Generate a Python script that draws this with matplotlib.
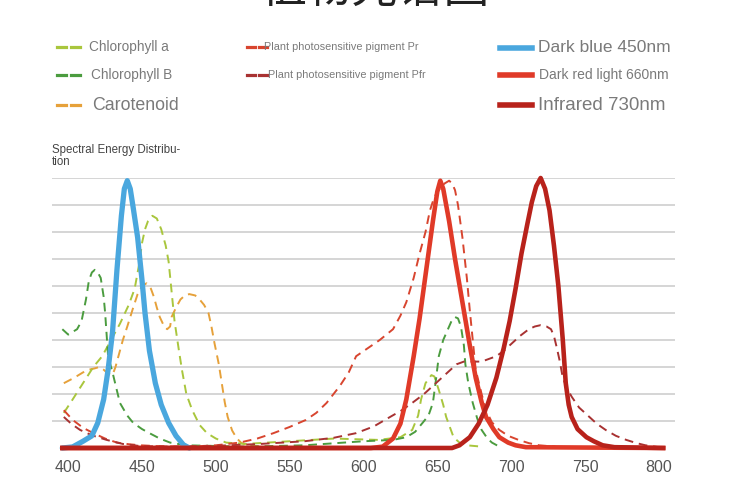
import matplotlib
matplotlib.use("Agg")
import matplotlib.pyplot as plt
from matplotlib.lines import Line2D

plt.rcParams['font.family'] = ['Liberation Sans', 'DejaVu Sans']

# wavelengths (nm) and relative energy (0-10 grid units)
wl_blue = [396, 403, 410, 416, 420, 424, 427, 430, 433, 436, 438, 440, 442, 444, 447, 450, 452,
           455, 459, 463, 468, 473, 478, 482]
val_blue = [0, 0.04, 0.25, 0.45, 0.93, 1.8, 2.9, 4.3, 6.6, 8.6, 9.6, 9.9, 9.6, 8.9, 7.8, 6.2, 5.0,
            3.6, 2.4, 1.6, 0.93, 0.45, 0.12, 0]

wl_red = [396, 605, 613, 620, 625, 629, 634, 638, 641, 644, 647, 650, 652, 654, 658, 662, 667,
          672, 676, 680, 683, 688, 692, 698, 703, 710, 803]
val_red = [0, 0, 0.05, 0.35, 0.9, 1.8, 3.4, 4.8, 6.0, 7.2, 8.4, 9.5, 9.9, 9.6, 8.4, 7.0, 5.4,
           3.8, 2.6, 1.7, 1.15, 0.7, 0.4, 0.2, 0.1, 0.03, 0]

wl_ir = [396, 660, 665, 672, 678, 684, 690, 695, 699, 703, 707, 711, 714, 717, 720, 723, 726,
         729, 732, 735, 737, 739, 741, 745, 751, 756, 762, 770, 803]
val_ir = [0, 0, 0.1, 0.4, 0.9, 1.6, 2.6, 3.7, 4.7, 5.9, 7.2, 8.3, 9.1, 9.7, 10.0, 9.6, 8.8,
          7.5, 6.0, 4.0, 2.4, 1.6, 1.15, 0.7, 0.4, 0.25, 0.1, 0.03, 0]

wl_chla = [397, 403, 410, 417, 423, 429, 435, 441, 445, 448, 450, 452, 454, 457, 460, 463, 466,
           468, 470, 472, 475, 477, 480, 484, 489, 494, 500, 507, 520, 550, 580, 610, 625, 633,
           637, 639, 642, 646, 648, 651, 654, 656, 659, 661, 665, 670, 680]
val_chla = [1.3, 1.8, 2.4, 3.0, 3.4, 4.0, 4.6, 5.3, 5.9, 6.8, 7.6, 8.1, 8.4, 8.6, 8.5, 8.1, 7.5,
            6.9, 5.8, 4.7, 3.6, 2.9, 2.0, 1.4, 0.85, 0.55, 0.35, 0.2, 0.15, 0.25, 0.35, 0.3, 0.4,
            0.67, 1.2, 1.8, 2.4, 2.7, 2.65, 2.15, 1.6, 1.15, 0.7, 0.4, 0.2, 0.1, 0.05]

wl_chlb = [396, 400, 403, 406, 409, 412, 414, 416, 418, 420, 422, 424, 425, 427, 430, 435, 440,
           444, 450, 455, 462, 469, 480, 520, 560, 600, 620, 629, 635, 640, 644, 647, 649, 651,
           654, 658, 660, 662, 664, 666, 668, 669, 671, 674, 677, 680, 684, 687, 692]
val_chlb = [4.4, 4.2, 4.3, 4.4, 4.7, 5.5, 6.2, 6.5, 6.6, 6.5, 6.3, 5.6, 5.0, 3.4, 2.8, 1.67, 1.2,
            0.93, 0.7, 0.55, 0.35, 0.2, 0.1, 0.05, 0.1, 0.25, 0.3, 0.4, 0.6, 0.93, 1.2, 1.67, 2.5,
            3.4, 4.0, 4.5, 4.75, 4.85, 4.8, 4.5, 3.8, 3.1, 2.4, 1.67, 1.1, 0.67, 0.35, 0.2, 0.05]

wl_car = [397, 404, 410, 414, 418, 421, 424, 427, 430, 432, 434, 437, 440, 444, 447, 450, 453,
          456, 458, 460, 462, 465, 467, 469, 470, 473, 476, 479, 482, 486, 489, 492, 495, 497,
          499, 502, 504, 506, 508, 511, 514, 517, 521, 530, 560]
val_car = [2.4, 2.6, 2.8, 2.9, 2.95, 3.0, 2.9, 2.75, 2.7, 3.0, 3.4, 4.0, 4.5, 5.2, 5.7, 6.0, 6.1,
           5.9, 5.6, 5.2, 4.85, 4.5, 4.4, 4.5, 4.85, 5.2, 5.5, 5.65, 5.7, 5.65, 5.5, 5.3, 5.0, 4.5,
           3.9, 3.1, 2.4, 1.7, 1.15, 0.65, 0.37, 0.2, 0.1, 0.05, 0.02]

wl_pr = [397, 403, 410, 417, 425, 433, 441, 449, 460, 482, 500, 516, 528, 539, 550, 561, 568,
         575, 584, 590, 595, 603, 611, 620, 625, 629, 634, 638, 642, 645, 648, 651, 655, 658, 660,
         662, 664, 667, 670, 672, 674, 676, 680, 683, 687, 692, 698, 705, 712, 719, 730]
val_pr = [1.4, 1.04, 0.75, 0.55, 0.35, 0.2, 0.14, 0.1, 0.07, 0.05, 0.1, 0.2, 0.35, 0.55, 0.78,
          1.04, 1.3, 1.67, 2.3, 2.8, 3.4, 3.7, 4.0, 4.4, 4.9, 5.4, 6.3, 7.2, 8.0, 8.8, 9.3, 9.55,
          9.8, 9.9, 9.8, 9.55, 9.0, 7.8, 6.3, 5.1, 4.0, 2.9, 2.0, 1.4, 0.95, 0.67, 0.45, 0.3, 0.18,
          0.1, 0.05]

wl_pfr = [397, 402, 408, 416, 426, 437, 449, 470, 500, 530, 560, 580, 595, 607, 618, 626, 633,
          641, 649, 656, 663, 668, 674, 680, 685, 690, 695, 701, 706, 712, 716, 720, 724, 727,
          729, 731, 733, 735, 738, 741, 746, 753, 758, 764, 771, 778, 785, 791, 800]
val_pfr = [1.15, 0.9, 0.67, 0.47, 0.3, 0.15, 0.07, 0.05, 0.08, 0.15, 0.25, 0.38, 0.55, 0.8, 1.15,
           1.4, 1.67, 2.0, 2.4, 2.75, 3.1, 3.2, 3.2, 3.2, 3.3, 3.4, 3.6, 3.9, 4.15, 4.4, 4.5, 4.55,
           4.5, 4.4, 4.15, 3.7, 3.2, 2.6, 2.2, 1.9, 1.5, 1.15, 0.9, 0.67, 0.45, 0.3, 0.18, 0.1,
           0.03]

xticks = [400, 450, 500, 550, 600, 650, 700, 750, 800]

c_chla = '#a9c63d'
c_chlb = '#4b9c3f'
c_car = '#e6a13a'
c_pr = '#d8452f'
c_pfr = '#a83232'
c_blue = '#4aa7de'
c_red = '#e03a28'
c_ir = '#b8221b'

W, H = 750, 499
fig = plt.figure(figsize=(7.5, 4.99), dpi=100)
ax = fig.add_axes([52 / W, 1 - 448 / H, 623 / W, 270 / H])
ax.set_xlim(389, 811)
ax.set_ylim(0, 10)

for g in range(1, 11):
    ax.axhline(g, color='#d2d2d2', lw=1.3, zorder=0)

dash = (0, (4.5, 3))
ax.plot(wl_car, val_car, color=c_car, lw=1.4, ls=dash, zorder=2)
ax.plot(wl_chla, val_chla, color=c_chla, lw=1.4, ls=dash, zorder=2)
ax.plot(wl_chlb, val_chlb, color=c_chlb, lw=1.4, ls=dash, zorder=2)
ax.plot(wl_pr, val_pr, color=c_pr, lw=1.4, ls=dash, zorder=2)
ax.plot(wl_pfr, val_pfr, color=c_pfr, lw=1.4, ls=dash, zorder=2)

ax.plot(wl_blue, val_blue, color=c_blue, lw=3.8, zorder=3, clip_on=False,
        solid_capstyle='round', solid_joinstyle='round')
ax.plot(wl_red, val_red, color=c_red, lw=3.3, zorder=3, clip_on=False, solid_joinstyle='round')
ax.plot(wl_ir, val_ir, color=c_ir, lw=3.3, zorder=4, clip_on=False, solid_joinstyle='round')

for s in ax.spines.values():
    s.set_visible(False)
ax.set_yticks([])
ax.set_xticks(xticks)
ax.set_xticklabels([str(t) for t in xticks], fontsize=11.5, color='#555555')
ax.tick_params(axis='x', length=0, pad=9)

fig.text(52 / W, 1 - 144 / H, 'Spectral Energy Distribu-\ntion', fontsize=8.3, color='#444444',
         va='top', ha='left', linespacing=1.0)

fig.text(376 / W, 1 - 13 / H, '植物光谱图', fontsize=33, color='#222222', ha='center',
         va='bottom', family=['Noto Sans CJK SC', 'DejaVu Sans'])


def legend_entry(x0, x1, y, color, label, size, dashed, tx):
    yy = 1 - y / H
    if dashed:
        seg = (x1 - x0) / 2.6
        fig.add_artist(Line2D([x0 / W, (x0 + seg) / W], [yy, yy], color=color, lw=2.3,
                              transform=fig.transFigure))
        fig.add_artist(Line2D([(x1 - seg) / W, x1 / W], [yy, yy], color=color, lw=2.3,
                              transform=fig.transFigure))
    else:
        fig.add_artist(Line2D([x0 / W, x1 / W], [yy, yy], color=color, lw=4,
                              transform=fig.transFigure))
    fig.text(tx / W, yy, label, fontsize=size, color='#7a7a7a', va='center', ha='left')


legend_entry(57, 80, 47, c_chla, 'Chlorophyll a', 9.8, True, 89)
legend_entry(57, 80, 75, c_chlb, 'Chlorophyll B', 9.8, True, 91)
legend_entry(57, 80, 105, c_car, 'Carotenoid', 12.8, True, 92)
legend_entry(247, 267, 47, c_pr, 'Plant photosensitive pigment Pr', 7.8, True, 264)
legend_entry(247, 267, 75, c_pfr, 'Plant photosensitive pigment Pfr', 7.8, True, 268)
legend_entry(500, 532, 48, c_blue, 'Dark blue 450nm', 12.5, False, 538)
legend_entry(500, 532, 75, c_red, 'Dark red light 660nm', 10, False, 539)
legend_entry(500, 532, 105, c_ir, 'Infrared 730nm', 13.5, False, 538)

plt.savefig('out.png', dpi=100)
